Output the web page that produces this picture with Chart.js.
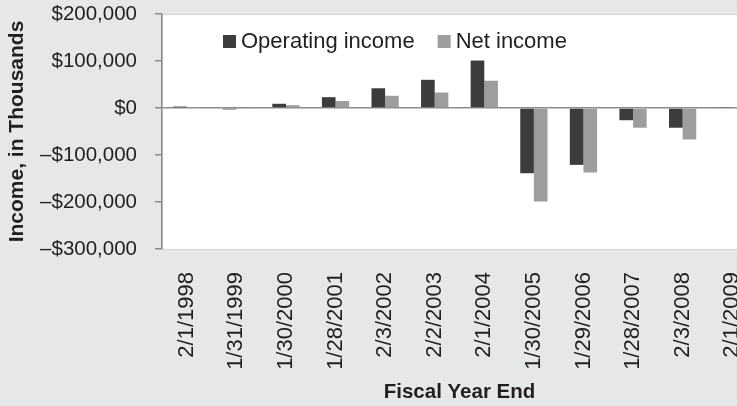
<!DOCTYPE html>
<html>
<head>
<meta charset="utf-8">
<script src="https://cdn.jsdelivr.net/npm/chart.js@4/dist/chart.umd.min.js"></script>
<style>
  html, body { margin: 0; padding: 0; background: #e6e7e9; overflow: hidden; }
  #wrap { width: 760px; height: 406px; position: relative; }
</style>
</head>
<body>
<div id="wrap"><canvas id="incomeChart"></canvas></div>
<script>
// fiscal year end dates
var fiscalYears = ['2/1/1998', '1/31/1999', '1/30/2000', '1/28/2001', '2/3/2002', '2/2/2003',
                   '2/1/2004', '1/30/2005', '1/29/2006', '1/28/2007', '2/3/2008', '2/1/2009'];
// values in thousands
var operatingIncome = [3000, -3000, 9000, 23000, 42000, 60000, 101000, -139000, -121000, -26000, -42000, 2000];
var netIncome = [500, -2000, 6000, 15000, 26000, 33000, 58000, -199000, -137000, -42000, -67000, 500];
var yTicks = [-300000, -200000, -100000, 0, 100000, 200000];

var FONT = '"Liberation Sans", Arial, Helvetica, sans-serif';
var TEXT = '#231f20';
var AXIS = '#8c8c8c';

function money(v) {
  return (v < 0 ? '\u2013' : '') + '$' + Math.abs(v).toLocaleString('en-US');
}

// white plot area
var plotBg = {
  id: 'plotBg',
  beforeDraw: function(chart) {
    var a = chart.chartArea, ctx = chart.ctx;
    ctx.save();
    ctx.fillStyle = '#ffffff';
    ctx.fillRect(a.left, a.top, a.right - a.left, a.bottom - a.top);
    ctx.strokeStyle = '#d6d6d6';
    ctx.lineWidth = 1;
    ctx.strokeRect(a.left + 0.5, a.top + 0.5, a.right - a.left, a.bottom - a.top);
    ctx.restore();
  }
};

// legend drawn inside the plot area
var legendInPlot = {
  id: 'legendInPlot',
  afterDatasetsDraw: function(chart) {
    var ctx = chart.ctx, a = chart.chartArea;
    var x = a.left + 61, y = a.top + 27;
    ctx.save();
    ctx.font = '22px ' + FONT;
    ctx.textBaseline = 'middle';
    chart.data.datasets.forEach(function(ds) {
      ctx.fillStyle = ds.backgroundColor;
      ctx.fillRect(x, y - 6, 13, 13);
      ctx.fillStyle = TEXT;
      ctx.fillText(ds.label, x + 18, y + 1);
      x += 18 + ctx.measureText(ds.label).width + 23;
    });
    ctx.restore();
  }
};

new Chart(document.getElementById('incomeChart'), {
  type: 'bar',
  data: {
    labels: fiscalYears,
    datasets: [
      { label: 'Operating income', data: operatingIncome, backgroundColor: '#3b3c3e' },
      { label: 'Net income', data: netIncome, backgroundColor: '#9c9d9f' }
    ]
  },
  options: {
    responsive: true,
    maintainAspectRatio: false,
    animation: false,
    layout: { padding: { left: 0, right: 3, top: 14, bottom: 0 } },
    plugins: {
      legend: { display: false },
      tooltip: { enabled: false }
    },
    datasets: {
      bar: { categoryPercentage: 0.55, barPercentage: 1.0 }
    },
    scales: {
      x: {
        afterFit: function(s) { s.height = 157; s.paddingLeft = 0; s.paddingRight = 0; },
        grid: { display: false, drawTicks: false },
        border: { display: true, color: '#d6d6d6' },
        ticks: {
          autoSkip: false,
          minRotation: 90,
          maxRotation: 90,
          padding: 23,
          color: TEXT,
          font: { family: FONT, size: 22 }
        },
        title: {
          display: true,
          text: 'Fiscal Year End',
          color: TEXT,
          padding: { top: 6, bottom: 1 },
          font: { family: FONT, size: 20.5, weight: 'bold' }
        }
      },
      y: {
        min: -300000,
        max: 200000,
        afterFit: function(s) { s.width = 162; s.paddingTop = 0; s.paddingBottom = 0; },
        afterBuildTicks: function(axis) {
          axis.ticks = yTicks.map(function(v) { return { value: v }; });
        },
        grid: {
          color: function(c) { return c.tick && c.tick.value === 0 ? AXIS : 'rgba(0,0,0,0)'; },
          lineWidth: 1.5,
          tickColor: AXIS,
          tickLength: 7
        },
        border: { display: true, color: AXIS, width: 1.5 },
        ticks: {
          padding: 18,
          color: TEXT,
          font: { family: FONT, size: 20.5 },
          callback: function(v) { return money(v); }
        },
        title: {
          display: true,
          text: 'Income, in Thousands',
          color: TEXT,
          padding: { top: 5, bottom: 9 },
          font: { family: FONT, size: 21, weight: 'bold' }
        }
      }
    }
  },
  plugins: [plotBg, legendInPlot]
});
</script>
</body>
</html>
